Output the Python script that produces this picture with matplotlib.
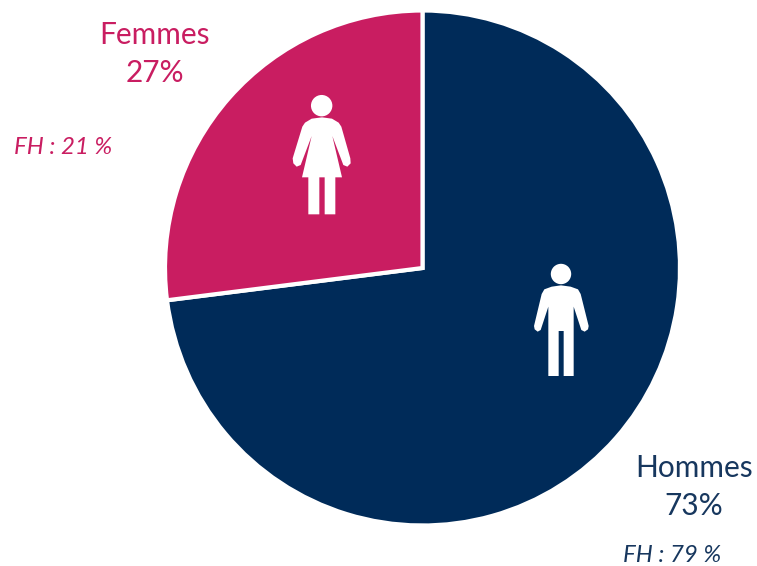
import matplotlib
matplotlib.use("Agg")
import matplotlib.pyplot as plt
from matplotlib.patches import Circle, Polygon

plt.rcParams['font.family'] = ['Lato', 'DejaVu Sans']

labels = ["Hommes", "Femmes"]
shares = [73, 27]
colors = ["#002B59", "#C91D61"]
fh_shares = [79, 21]

W, H = 757, 566
fig = plt.figure(figsize=(W / 100, H / 100), dpi=100)
ax = fig.add_axes([0, 0, 1, 1])

# y axis is flipped (pixel coords), so counterclock here is clockwise on screen
ax.pie(shares, colors=colors, startangle=-90, counterclock=True,
       center=(422.5, 268), radius=257.5, frame=True,
       wedgeprops=dict(edgecolor="white", linewidth=3))
ax.set_xlim(0, W)
ax.set_ylim(H, 0)
ax.set_aspect("auto")
ax.axis("off")

woman = [(125, 116), (105, 128), (97, 140), (68, 235), (70, 250), (80, 260), (92, 255),
         (125, 168), (96, 292), (115, 292), (115, 403), (148, 403), (148, 292), (164, 292),
         (164, 403), (196, 403), (196, 292), (216, 292), (187, 168), (220, 255), (232, 260),
         (242, 250), (241, 235), (214, 140), (206, 128), (186, 116), (156, 112)]
man = [(125, 110), (103, 118), (95, 132), (72, 228), (74, 238), (83, 245), (92, 240),
       (115, 170), (115, 378), (146, 378), (146, 243), (161, 243), (161, 378), (191, 378),
       (191, 170), (214, 240), (224, 245), (234, 238), (236, 228), (212, 132), (204, 118),
       (182, 110), (153, 106)]


def icon(outline, ox, oy, head, r):
    pts = [(ox + x / 3, oy + y / 3) for x, y in outline]
    ax.add_patch(Polygon(pts, closed=True, facecolor="white", edgecolor="none", zorder=5))
    ax.add_patch(Circle((ox + head[0] / 3, oy + head[1] / 3), r, facecolor="white", edgecolor="none", zorder=5))


icon(woman, 270, 80, (155, 77), 10.7)
icon(man, 510, 250, (153, 72), 10.2)

ax.text(154.5, 35, labels[1], color=colors[1], fontsize=21.5, ha="center", va="center")
ax.text(154.5, 73, f"{shares[1]}%", color=colors[1], fontsize=21.5, ha="center", va="center")
ax.text(63.5, 147.5, f"FH : {fh_shares[1]} %", color=colors[1], fontsize=17.3, style="italic", ha="center", va="center")
ax.text(694, 468, labels[0], color="#17375E", fontsize=21.5, ha="center", va="center")
ax.text(694, 506, f"{shares[0]}%", color="#17375E", fontsize=21.5, ha="center", va="center")
ax.text(672, 556, f"FH : {fh_shares[0]} %", color="#17375E", fontsize=17.3, style="italic", ha="center", va="center")

fig.savefig("out.png", dpi=100)
